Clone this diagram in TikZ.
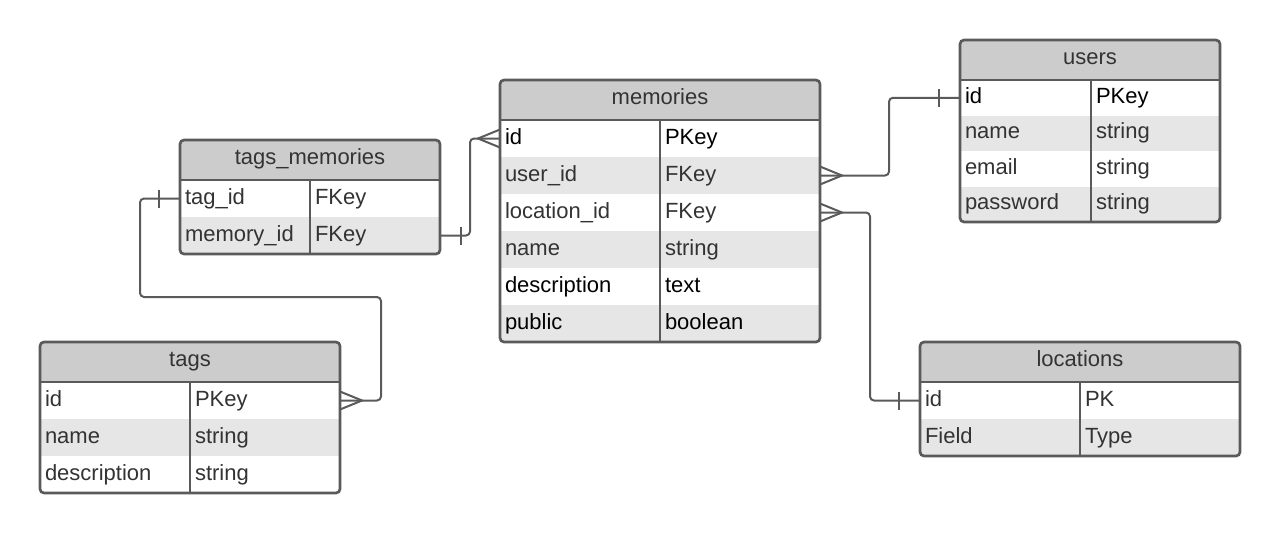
\documentclass[tikz,border=0pt]{standalone}
\usepackage{fontspec}
\setmainfont{Liberation Sans}
\usepackage{tikz}
\usetikzlibrary{positioning,calc}

\definecolor{edgegray}{RGB}{90,90,90}
\definecolor{headgray}{RGB}{204,204,204}
\definecolor{stripegray}{RGB}{230,230,230}
\definecolor{inkgray}{RGB}{51,51,51}

\newcommand{\erfont}{\fontsize{16.5}{19}\selectfont}
% crow's foot at a table edge: #1 anchor, #2 = 1 (line leaves right) or -1 (leaves left)
\newcommand{\manyend}[2]{%
  \draw[link, sharp corners] ($(#1)+(0,-9)$) -- ($(#1)+(#2*22,0)$) -- ($(#1)+(0,9)$);}
% single bar near a table edge
\newcommand{\oneend}[2]{%
  \draw[link, sharp corners] ($(#1)+(#2*21,-9)$) -- ($(#1)+(#2*21,9)$);}

\begin{document}
\begin{tikzpicture}[x=0.75pt,y=0.75pt,yscale=-1,
  head/.style={rectangle, fill=headgray, minimum height=30pt, inner sep=0pt, outer sep=0pt, text height=11pt, text depth=4.6pt, text=inkgray, font=\erfont},
  cell/.style={rectangle, inner xsep=3.75pt, inner ysep=0pt, outer sep=0pt, minimum height=27.75pt, text height=12pt, text depth=3.5pt, align=left, text=inkgray, font=\erfont},
  userrow/.style={minimum height=26.625pt},
  whiterow/.style={fill=white},
  greyrow/.style={fill=stripegray},
  frame/.style={draw=edgegray, line width=2pt, rounded corners=3pt},
  link/.style={draw=edgegray, line width=1.5pt, rounded corners=3pt}]
\useasboundingbox (0,0) rectangle (1280,533);

%Table: memories
\node[head, minimum width=240pt] (mem-head) at (660,100) {memories};
\node[cell, whiterow, text width=112.5pt, text=black, anchor=north west] (mem-id) at (mem-head.south west) {id};
\node[cell, whiterow, text width=112.5pt, text=black, right=0pt of mem-id] (mem-id-t) {PKey};
\node[cell, greyrow, text width=112.5pt, below=0pt of mem-id] (mem-user) {user\_id};
\node[cell, greyrow, text width=112.5pt, right=0pt of mem-user] (mem-user-t) {FKey};
\node[cell, whiterow, text width=112.5pt, below=0pt of mem-user] (mem-loc) {location\_id};
\node[cell, whiterow, text width=112.5pt, right=0pt of mem-loc] (mem-loc-t) {FKey};
\node[cell, greyrow, text width=112.5pt, below=0pt of mem-loc] (mem-name) {name};
\node[cell, greyrow, text width=112.5pt, right=0pt of mem-name] (mem-name-t) {string};
\node[cell, whiterow, text width=112.5pt, text=black, below=0pt of mem-name] (mem-desc) {description};
\node[cell, whiterow, text width=112.5pt, text=black, right=0pt of mem-desc] (mem-desc-t) {text};
\node[cell, greyrow, text width=112.5pt, text=black, below=0pt of mem-desc] (mem-pub) {public};
\node[cell, greyrow, text width=112.5pt, text=black, right=0pt of mem-pub] (mem-pub-t) {boolean};

%Table: users
\node[head, minimum width=195pt] (users-head) at (1090,60) {users};
\node[cell, userrow, whiterow, text width=90.75pt, text=black, anchor=north west] (users-id) at (users-head.south west) {id};
\node[cell, userrow, whiterow, text width=89.25pt, text=black, right=0pt of users-id] (users-id-t) {PKey};
\node[cell, userrow, greyrow, text width=90.75pt, below=0pt of users-id] (users-name) {name};
\node[cell, userrow, greyrow, text width=89.25pt, right=0pt of users-name] (users-name-t) {string};
\node[cell, userrow, whiterow, text width=90.75pt, below=0pt of users-name] (users-mail) {email};
\node[cell, userrow, whiterow, text width=89.25pt, right=0pt of users-mail] (users-mail-t) {string};
\node[cell, userrow, greyrow, text width=90.75pt, below=0pt of users-mail] (users-pass) {password};
\node[cell, userrow, greyrow, text width=89.25pt, right=0pt of users-pass] (users-pass-t) {string};

%Table: tags_memories
\node[head, minimum width=195pt] (tm-head) at (310,160) {tags\_memories};
\node[cell, whiterow, text width=90pt, anchor=north west] (tm-tag) at (tm-head.south west) {tag\_id};
\node[cell, whiterow, text width=90pt, right=0pt of tm-tag] (tm-tag-t) {FKey};
\node[cell, greyrow, text width=90pt, below=0pt of tm-tag] (tm-mem) {memory\_id};
\node[cell, greyrow, text width=90pt, right=0pt of tm-mem] (tm-mem-t) {FKey};

%Table: tags
\node[head, minimum width=225pt] (tags-head) at (190,362) {tags};
\node[cell, whiterow, text width=105pt, anchor=north west] (tags-id) at (tags-head.south west) {id};
\node[cell, whiterow, text width=105pt, right=0pt of tags-id] (tags-id-t) {PKey};
\node[cell, greyrow, text width=105pt, below=0pt of tags-id] (tags-name) {name};
\node[cell, greyrow, text width=105pt, right=0pt of tags-name] (tags-name-t) {string};
\node[cell, whiterow, text width=105pt, below=0pt of tags-name] (tags-desc) {description};
\node[cell, whiterow, text width=105pt, right=0pt of tags-desc] (tags-desc-t) {string};

%Table: locations
\node[head, minimum width=240pt] (loc-head) at (1080,362) {locations};
\node[cell, whiterow, text width=112.5pt, anchor=north west] (loc-id) at (loc-head.south west) {id};
\node[cell, whiterow, text width=112.5pt, right=0pt of loc-id] (loc-id-t) {PK};
\node[cell, greyrow, text width=112.5pt, below=0pt of loc-id] (loc-field) {Field};
\node[cell, greyrow, text width=112.5pt, right=0pt of loc-field] (loc-field-t) {Type};

%Frames: outline, header rule, column rule
\draw[frame] (mem-head.north west) rectangle (mem-pub-t.south east);
\draw[frame] (mem-head.south west) -- (mem-head.south east);
\draw[frame] (mem-id-t.north west) -- (mem-pub-t.south west);
\draw[frame] (users-head.north west) rectangle (users-pass-t.south east);
\draw[frame] (users-head.south west) -- (users-head.south east);
\draw[frame] (users-id-t.north west) -- (users-pass-t.south west);
\draw[frame] (tm-head.north west) rectangle (tm-mem-t.south east);
\draw[frame] (tm-head.south west) -- (tm-head.south east);
\draw[frame] (tm-tag-t.north west) -- (tm-mem-t.south west);
\draw[frame] (tags-head.north west) rectangle (tags-desc-t.south east);
\draw[frame] (tags-head.south west) -- (tags-head.south east);
\draw[frame] (tags-id-t.north west) -- (tags-desc-t.south west);
\draw[frame] (loc-head.north west) rectangle (loc-field-t.south east);
\draw[frame] (loc-head.south west) -- (loc-head.south east);
\draw[frame] (loc-id-t.north west) -- (loc-field-t.south west);

%Connector: tags_memories.memory_id -- memories.id
\draw[link] (tm-mem-t.east) -- ++(30,0) |- (mem-id.west);
\oneend{tm-mem-t.east}{1}
\manyend{mem-id.west}{-1}

%Connector: tags_memories.tag_id -- tags.id
\draw[link] (tm-tag.west) -- ++(-40,0) -- ++(0,98.5) -| ($(tags-id-t.east)+(41,0)$) -- (tags-id-t.east);
\oneend{tm-tag.west}{-1}
\manyend{tags-id-t.east}{1}

%Connector: memories.user_id -- users.id
\draw[link] (mem-user-t.east) -- ++(69,0) |- (users-id.west);
\manyend{mem-user-t.east}{1}
\oneend{users-id.west}{-1}

%Connector: memories.location_id -- locations.id
\draw[link] (mem-loc-t.east) -- ++(50,0) |- (loc-id.west);
\manyend{mem-loc-t.east}{1}
\oneend{loc-id.west}{-1}

\end{tikzpicture}
\end{document}
